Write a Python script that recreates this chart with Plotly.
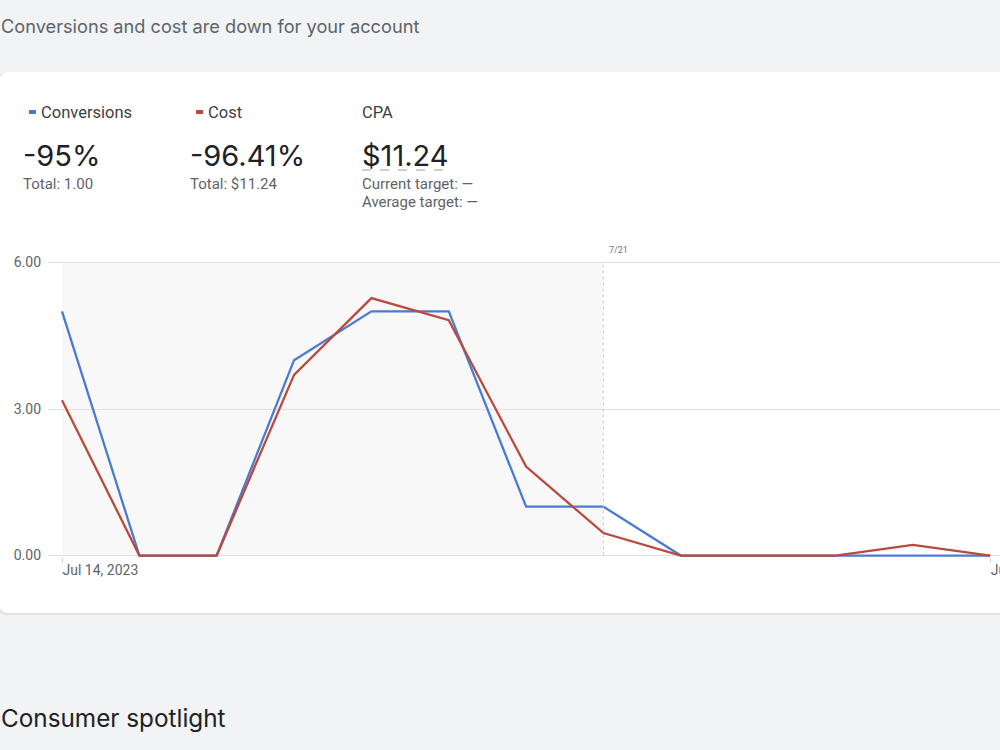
import plotly.graph_objects as go
import pandas as pd

# ---- data ----
dates = pd.date_range("2023-07-14", "2023-07-26", freq="D")
conversions = [5, 0, 0, 4, 5, 5, 1, 1, 0, 0, 0, 0, 0]
cost = [3.18, 0, 0, 3.70, 5.27, 4.82, 1.82, 0.46, 0, 0, 0, 0.22, 0]
y_ticks = [0, 3, 6]
y_tick_labels = ["0.00", "3.00", "6.00"]
x_tick_vals = [dates[0], dates[-1]]
x_tick_labels = ["Jul 14, 2023", "Jul 26, 2023"]
split_date = pd.Timestamp("2023-07-21")
split_label = "7/21"

header = "Conversions and cost are down for your account"
footer = "Consumer spotlight"
metrics = [
    {"name": "Conversions", "value": "-95%", "sub": ["Total: 1.00"], "color": "#4a7bd3"},
    {"name": "Cost", "value": "-96.41%", "sub": ["Total: $11.24"], "color": "#b84b3d"},
    {"name": "CPA", "value": "$11.24", "sub": ["Current target: —", "Average target: —"], "color": None},
]

BLUE = "#4a7bd3"
RED = "#b84b3d"

# ---- layout geometry (pixels) ----
W, H = 1000, 750
L, R, T, B = 48, 0, 261, 193
PW = W - L - R
PH = H - T - B
BOTTOM = H - B
Y_PAD = 0.03  # keeps the 0 and 6 grid lines off the exact plot edges


def px(x):
    return (x - L) / PW


def py(y):
    return (BOTTOM - y) / PH


day_px = 77.35
x_start = dates[0] - pd.Timedelta(days=(62 - L) / day_px)
x_end = dates[0] + pd.Timedelta(days=(W - 62) / day_px)


def date_paper(d):
    return (d - x_start) / (x_end - x_start)


def val_paper(v):
    return (v + Y_PAD) / (6 + 2 * Y_PAD)


fig = go.Figure()
fig.add_trace(go.Scatter(x=dates, y=conversions, mode="lines", name="Conversions",
                         line=dict(color=BLUE, width=2.3), showlegend=False))
fig.add_trace(go.Scatter(x=dates, y=cost, mode="lines", name="Cost",
                         line=dict(color=RED, width=2.3), showlegend=False))

shapes = []
# card with rounded corners
cx0, cx1, cy0, cy1, r = 0, 1012, 72, 613, 8


def rounded(x0, y0, x1, y1, r):
    return (f"M {px(x0 + r)} {py(y0)} L {px(x1 - r)} {py(y0)} "
            f"Q {px(x1)} {py(y0)} {px(x1)} {py(y0 + r)} L {px(x1)} {py(y1 - r)} "
            f"Q {px(x1)} {py(y1)} {px(x1 - r)} {py(y1)} L {px(x0 + r)} {py(y1)} "
            f"Q {px(x0)} {py(y1)} {px(x0)} {py(y1 - r)} L {px(x0)} {py(y0 + r)} "
            f"Q {px(x0)} {py(y0)} {px(x0 + r)} {py(y0)} Z")


shapes.append(dict(type="path", xref="paper", yref="paper", layer="below",
                   path=rounded(cx0 - 1, cy0, cx1 + 1, cy1 + 2, r),
                   fillcolor="#e1e2e4", line=dict(width=0)))
shapes.append(dict(type="path", xref="paper", yref="paper", layer="below",
                   path=rounded(cx0, cy0, cx1, cy1, r),
                   fillcolor="white", line=dict(width=0)))
# previous period shading (paper-referenced so it sits below the grid)
shapes.append(dict(type="rect", xref="paper", yref="paper", layer="below",
                   x0=date_paper(dates[0]), x1=date_paper(split_date),
                   y0=val_paper(0), y1=val_paper(6),
                   fillcolor="#f8f8f8", line=dict(width=0)))
# split line
shapes.append(dict(type="line", xref="x", yref="y", layer="above",
                   x0=split_date, x1=split_date, y0=0, y1=6,
                   line=dict(color="#cfcfcf", width=1, dash="dot")))

annotations = []


def text(x, y, s, size, color, family="Roboto", anchor="left"):
    annotations.append(dict(xref="paper", yref="paper", x=px(x), y=py(y), text=s,
                            showarrow=False, xanchor=anchor, yanchor="middle",
                            borderpad=0,
                            font=dict(size=size, color=color, family=family)))


text(0, 26, header, 18.2, "#5f6368", "Inter")
text(0, 718, footer, 24.3, "#202124", "Inter")

cols = [23, 190, 362]
for m, cx in zip(metrics, cols):
    if m["color"]:
        shapes.append(dict(type="line", xref="paper", yref="paper", layer="above",
                           x0=px(cx + 6), x1=px(cx + 13), y0=py(112), y1=py(112),
                           line=dict(color=m["color"], width=4)))
        text(cx + 17, 112, m["name"], 16.5, "#3c4043")
    else:
        text(cx - 1, 112, m["name"], 16.5, "#3c4043")
    text(cx - 1, 155, m["value"], 29, "#202124", "Inter")
    for i, s in enumerate(m["sub"]):
        text(cx - 1, 184 + 18 * i, s, 15, "#5f6368")

# dashed underline under CPA value
shapes.append(dict(type="line", xref="paper", yref="paper", layer="above",
                   x0=px(362), x1=px(447), y0=py(170), y1=py(170),
                   line=dict(color="#9aa0a6", width=1, dash="dash")))

annotations.append(dict(xref="x", yref="paper", x=split_date, y=py(250), text=split_label,
                        showarrow=False, xanchor="left", yanchor="middle", xshift=4,
                        font=dict(size=9, color="#70757a", family="Roboto")))

fig.update_layout(
    width=W, height=H,
    margin=dict(l=L, r=R, t=T, b=B, pad=0, autoexpand=False),
    paper_bgcolor="#f1f3f4",
    plot_bgcolor="rgba(0,0,0,0)",
    shapes=shapes,
    annotations=annotations,
    font=dict(family="Roboto", color="#5f6368"),
    xaxis=dict(type="date", range=[x_start, x_end], tickvals=x_tick_vals, ticktext=x_tick_labels,
               ticklabelposition="outside right", ticklabeloverflow="allow", automargin=False,
               ticks="outside", ticklen=5, tickcolor="#d0d0d0",
               showgrid=False, zeroline=False, showline=False,
               tickfont=dict(size=14, color="#5f6368", family="Roboto")),
    yaxis=dict(range=[-Y_PAD, 6 + Y_PAD], tickvals=y_ticks, ticktext=y_tick_labels,
               showgrid=True, gridcolor="#e0e0e0", gridwidth=1, zeroline=False, showline=False,
               ticks="", ticklabelstandoff=6, automargin=False,
               tickfont=dict(size=14, color="#5f6368", family="Roboto")),
)

fig.write_html("out.html")
